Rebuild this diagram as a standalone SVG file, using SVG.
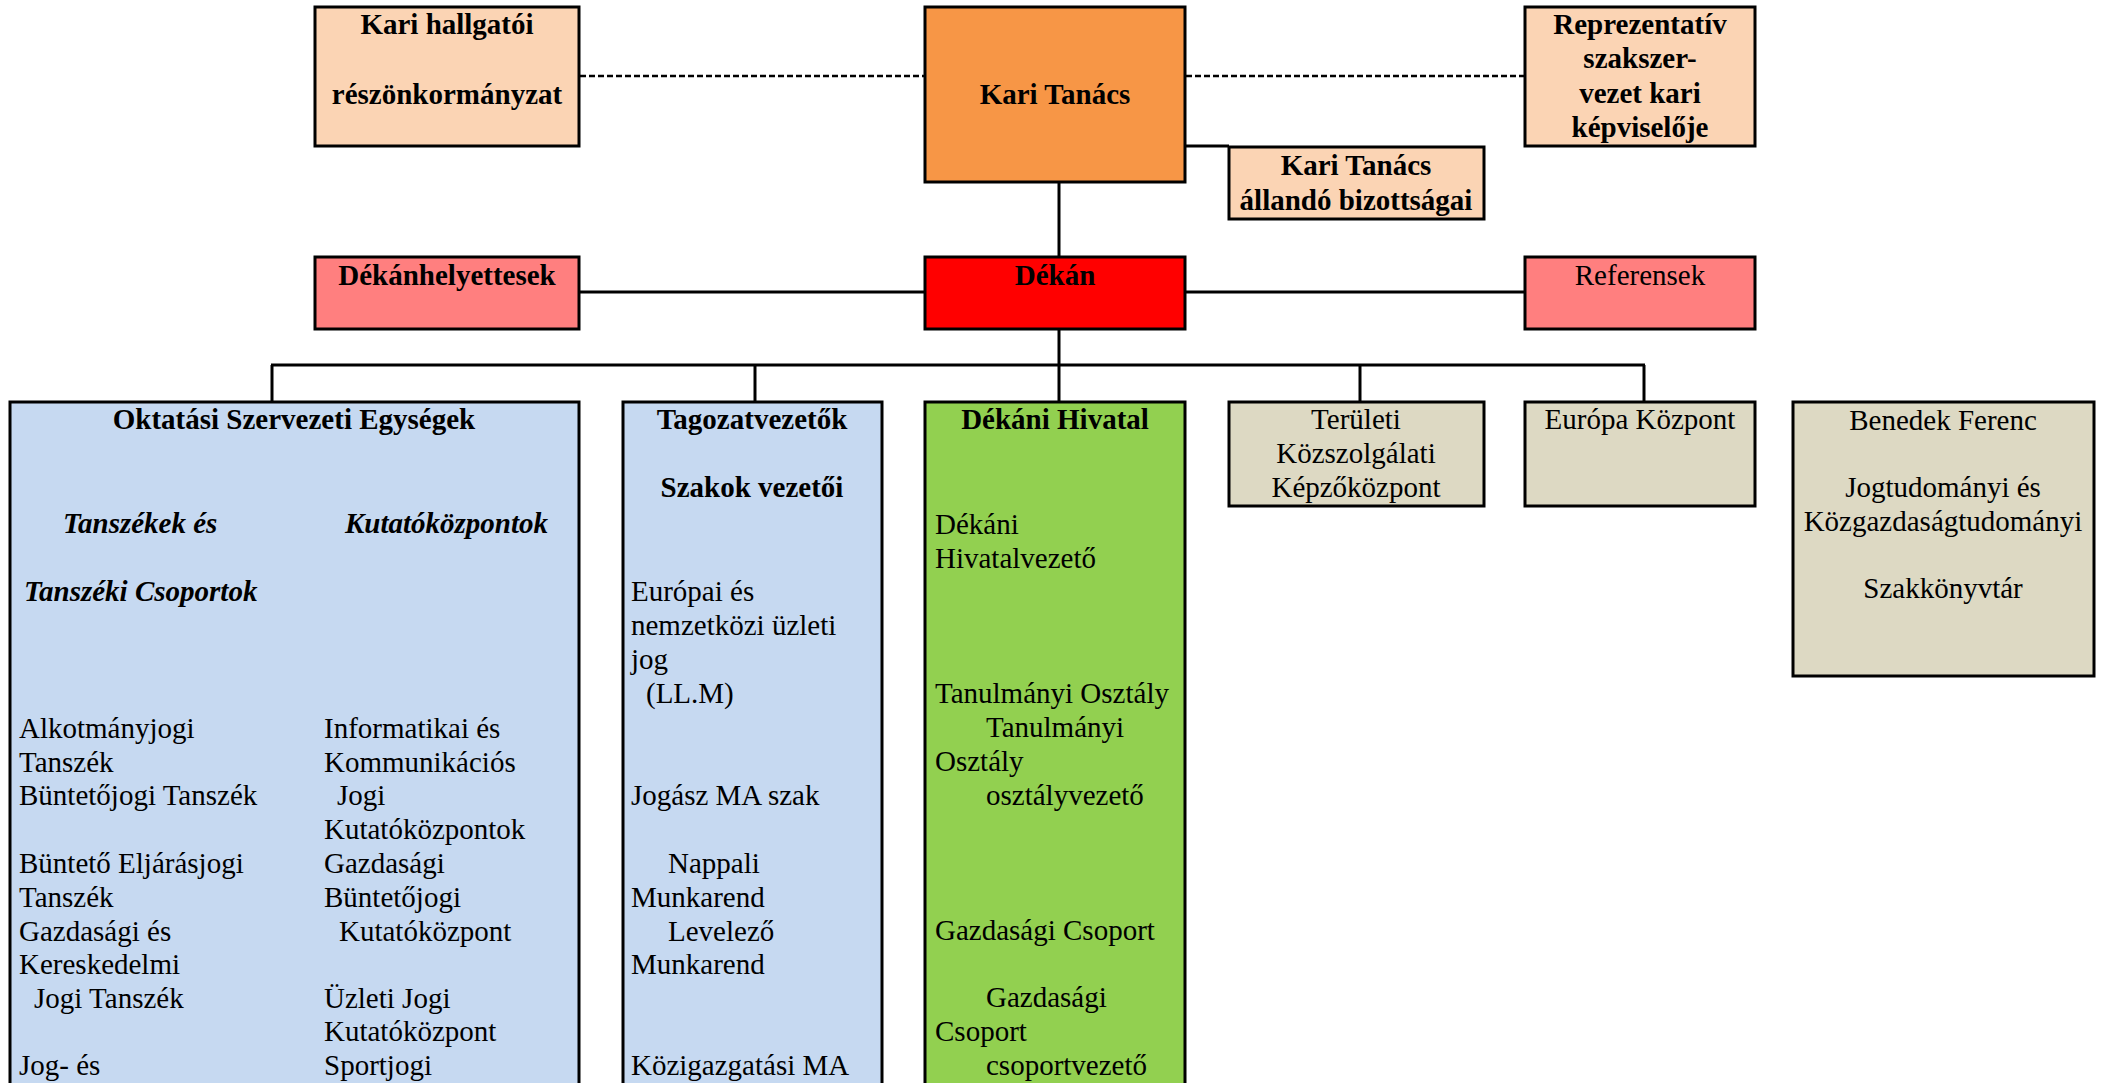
<svg xmlns="http://www.w3.org/2000/svg" width="2105" height="1083" viewBox="0 0 2105 1083">
<style>
text{font-family:"Liberation Serif","Times New Roman",serif;font-size:29px;fill:#000}
.b{font-weight:bold}
.i{font-style:italic}
.c{text-anchor:middle}
.box{stroke:#000;stroke-width:3}
.peach{fill:#FBD4B4}
.orange{fill:#F79646}
.pink{fill:#FF7F7F}
.red{fill:#FF0000}
.blue{fill:#C6D9F1}
.green{fill:#92D050}
.beige{fill:#DDD9C3}
.ln{stroke:#000;stroke-width:3;fill:none}
.dash{stroke:#000;stroke-width:2.5;fill:none;stroke-dasharray:6 3}
</style>
<rect width="2105" height="1083" fill="#fff"/>
<g id="connectors">
<line class="dash" x1="580" y1="76" x2="924" y2="76"/>
<line class="dash" x1="1186" y1="76" x2="1524" y2="76"/>
<line class="ln" x1="1186" y1="146" x2="1229" y2="146"/>
<line class="ln" x1="1059" y1="183" x2="1059" y2="257"/>
<line class="ln" x1="580" y1="292" x2="924" y2="292"/>
<line class="ln" x1="1186" y1="292" x2="1524" y2="292"/>
<line class="ln" x1="1059" y1="329" x2="1059" y2="402"/>
<line class="ln" x1="271" y1="365" x2="1645" y2="365"/>
<line class="ln" x1="272" y1="365" x2="272" y2="402"/>
<line class="ln" x1="755" y1="365" x2="755" y2="402"/>
<line class="ln" x1="1360" y1="365" x2="1360" y2="402"/>
<line class="ln" x1="1644" y1="365" x2="1644" y2="402"/>
</g>
<g id="kari-hallgatoi">
<rect class="box peach" x="315" y="7" width="264" height="139"/>
<text class="b c" x="447" y="34">Kari hallgatói</text>
<text class="b c" x="447" y="104">részönkormányzat</text>
</g>
<g id="kari-tanacs">
<rect class="box orange" x="925" y="7" width="260" height="175"/>
<text class="b c" x="1055" y="104">Kari Tanács</text>
</g>
<g id="reprezentativ">
<rect class="box peach" x="1525" y="7" width="230" height="139"/>
<text class="b c" x="1640" y="34">Reprezentatív</text>
<text class="b c" x="1640" y="68">szakszer-</text>
<text class="b c" x="1640" y="103">vezet kari</text>
<text class="b c" x="1640" y="137">képviselője</text>
</g>
<g id="allando-bizottsagok">
<rect class="box peach" x="1229" y="147" width="255" height="72"/>
<text class="b c" x="1356" y="175">Kari Tanács</text>
<text class="b c" x="1356" y="210">állandó bizottságai</text>
</g>
<g id="dekanhelyettesek">
<rect class="box pink" x="315" y="257" width="264" height="72"/>
<text class="b c" x="447" y="285">Dékánhelyettesek</text>
</g>
<g id="dekan">
<rect class="box red" x="925" y="257" width="260" height="72"/>
<text class="b c" x="1055" y="285">Dékán</text>
</g>
<g id="referensek">
<rect class="box pink" x="1525" y="257" width="230" height="72"/>
<text class="c" x="1640" y="285">Referensek</text>
</g>
<g id="oktatasi">
<rect class="box blue" x="10" y="402" width="569" height="700"/>
<text class="b c" x="294" y="429">Oktatási Szervezeti Egységek</text>
<text class="b i" x="63" y="533">Tanszékek és</text>
<text class="b i" x="345" y="533">Kutatóközpontok</text>
<text class="b i" x="24" y="601">Tanszéki Csoportok</text>
<text x="19" y="738">Alkotmányjogi</text>
<text x="19" y="772">Tanszék</text>
<text x="19" y="805">Büntetőjogi Tanszék</text>
<text x="19" y="873">Büntető Eljárásjogi</text>
<text x="19" y="907">Tanszék</text>
<text x="19" y="941">Gazdasági és</text>
<text x="19" y="974">Kereskedelmi</text>
<text x="34" y="1008">Jogi Tanszék</text>
<text x="19" y="1075">Jog- és</text>
<text x="324" y="738">Informatikai és</text>
<text x="324" y="772">Kommunikációs</text>
<text x="337" y="805">Jogi</text>
<text x="324" y="839">Kutatóközpontok</text>
<text x="324" y="873">Gazdasági</text>
<text x="324" y="907">Büntetőjogi</text>
<text x="339" y="941">Kutatóközpont</text>
<text x="324" y="1008">Üzleti Jogi</text>
<text x="324" y="1041">Kutatóközpont</text>
<text x="324" y="1075">Sportjogi</text>
</g>
<g id="tagozatvezetok">
<rect class="box blue" x="623" y="402" width="259" height="700"/>
<text class="b c" x="752" y="429">Tagozatvezetők</text>
<text class="b c" x="752" y="497">Szakok vezetői</text>
<text x="631" y="601">Európai és</text>
<text x="631" y="635">nemzetközi üzleti</text>
<text x="631" y="669">jog</text>
<text x="646" y="703">(LL.M)</text>
<text x="631" y="805">Jogász MA szak</text>
<text x="668" y="873">Nappali</text>
<text x="631" y="907">Munkarend</text>
<text x="668" y="941">Levelező</text>
<text x="631" y="974">Munkarend</text>
<text x="631" y="1075">Közigazgatási MA</text>
</g>
<g id="dekani-hivatal">
<rect class="box green" x="925" y="402" width="260" height="700"/>
<text class="b c" x="1055" y="429">Dékáni Hivatal</text>
<text x="935" y="534">Dékáni</text>
<text x="935" y="568">Hivatalvezető</text>
<text x="935" y="703">Tanulmányi Osztály</text>
<text x="986" y="737">Tanulmányi</text>
<text x="935" y="771">Osztály</text>
<text x="986" y="805">osztályvezető</text>
<text x="935" y="940">Gazdasági Csoport</text>
<text x="986" y="1007">Gazdasági</text>
<text x="935" y="1041">Csoport</text>
<text x="986" y="1075">csoportvezető</text>
</g>
<g id="teruleti">
<rect class="box beige" x="1229" y="402" width="255" height="104"/>
<text class="c" x="1356" y="429">Területi</text>
<text class="c" x="1356" y="463">Közszolgálati</text>
<text class="c" x="1356" y="497">Képzőközpont</text>
</g>
<g id="europa">
<rect class="box beige" x="1525" y="402" width="230" height="104"/>
<text class="c" x="1640" y="429">Európa Központ</text>
</g>
<g id="benedek">
<rect class="box beige" x="1793" y="402" width="301" height="274"/>
<text class="c" x="1943" y="430">Benedek Ferenc</text>
<text class="c" x="1943" y="497">Jogtudományi és</text>
<text class="c" x="1943" y="531">Közgazdaságtudományi</text>
<text class="c" x="1943" y="598">Szakkönyvtár</text>
</g>
</svg>
